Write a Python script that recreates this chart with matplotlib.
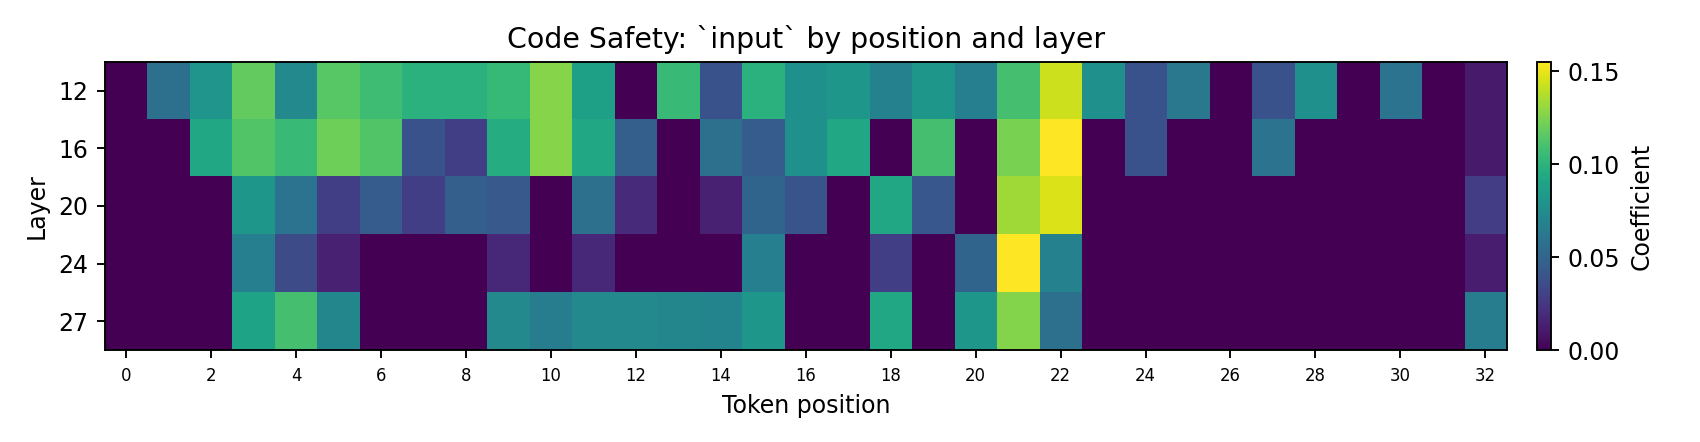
import numpy as np
import matplotlib
matplotlib.use("Agg")
import matplotlib.pyplot as plt

# layers probed and token positions
layers = [12, 16, 20, 24, 27]
positions = list(range(33))

# coefficient per (layer, position)
coef_l12 = [0, .057, .081, .118, .073, .115, .107, .099, .099, .104, .127, .088, 0, .105, .039, .099,
            .078, .082, .068, .082, .067, .109, .143, .078, .039, .062, 0, .039, .078, 0, .059, 0, .011]
coef_l16 = [0, 0, .093, .113, .105, .121, .113, .039, .029, .096, .127, .093, .047, 0, .057, .045,
            .078, .093, 0, .109, 0, .124, .155, 0, .039, 0, 0, .059, 0, 0, 0, 0, .011]
coef_l20 = [0, 0, 0, .082, .059, .029, .045, .029, .047, .043, 0, .057, .019, 0, .014, .050,
            .040, 0, .093, .042, 0, .133, .147, 0, 0, 0, 0, 0, 0, 0, 0, 0, .028]
coef_l24 = [0, 0, 0, .067, .036, .014, 0, 0, 0, .017, 0, .017, 0, 0, 0, .067,
            0, 0, .029, 0, .050, .155, .068, 0, 0, 0, 0, 0, 0, 0, 0, 0, .012]
coef_l27 = [0, 0, 0, .090, .109, .071, 0, 0, 0, .073, .065, .073, .073, .071, .070, .082,
            0, 0, .093, 0, .082, .126, .057, 0, 0, 0, 0, 0, 0, 0, 0, 0, .065]

mat = np.array([coef_l12, coef_l16, coef_l20, coef_l24, coef_l27])

fig = plt.figure(figsize=(10, 2.6), dpi=170)
ax = fig.add_axes([0.0618, 0.208, 0.8244, 0.652])
cax = fig.add_axes([0.904, 0.208, 0.0085, 0.652])

im = ax.imshow(mat, aspect="auto", cmap="viridis", vmin=0, vmax=mat.max(),
               interpolation="nearest")
ax.set_yticks(range(len(layers)))
ax.set_yticklabels([str(l) for l in layers])
ax.set_xticks(positions[::2])
ax.set_xticklabels([str(p) for p in positions[::2]], fontsize=7)
ax.set_xlabel("Token position")
ax.set_ylabel("Layer")
ax.set_title("Code Safety: `input` by position and layer", fontsize=12)

cb = fig.colorbar(im, cax=cax)
cb.set_label("Coefficient")
cb.set_ticks([0, 0.05, 0.10, 0.15])

fig.savefig("out.png", dpi=170)
